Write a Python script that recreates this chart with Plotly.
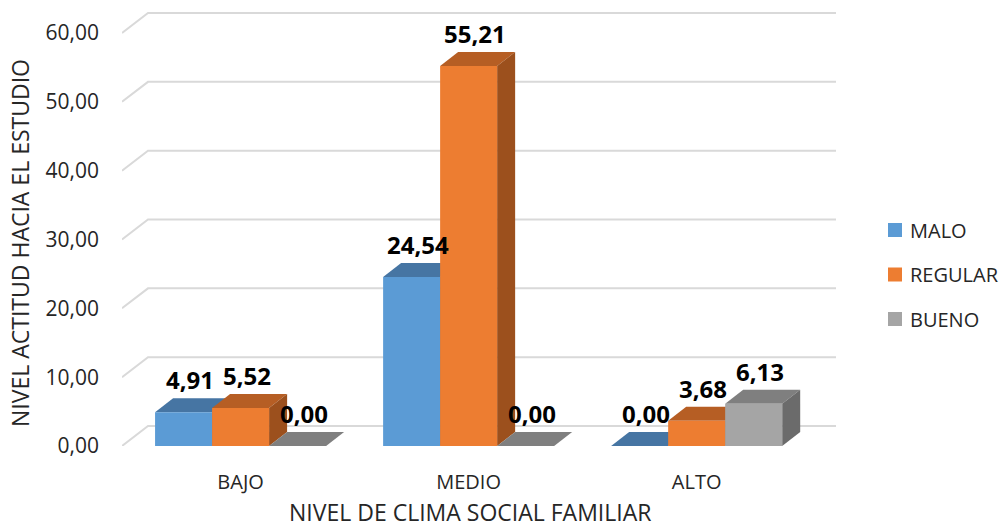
import plotly.graph_objects as go

# ---- data ----
categories = ["BAJO", "MEDIO", "ALTO"]
series_names = ["MALO", "REGULAR", "BUENO"]
malo = [4.91, 24.54, 0.00]
regular = [5.52, 55.21, 3.68]
bueno = [0.00, 0.00, 6.13]
y_ticks = [0, 10, 20, 30, 40, 50, 60]

series_values = [malo, regular, bueno]

# ---- style ----
front_colors = ["#5B9BD5", "#ED7D31", "#A5A5A5"]
top_colors = ["#4675A3", "#B65E24", "#7F7F7F"]
side_colors = ["#3F6A94", "#9C501D", "#6B6B6B"]
FONT = "Open Sans"
TXT = "#262626"

BAR_W = 0.25          # bar width in category units
DX, DY = 0.079, 2.03  # bar depth projection (x units, y units)
WDX, WDY = 0.114, 2.9 # back-wall projection
X0, X1 = -0.52, 2.611
Y1 = 63.34

# plot area in pixels (for placing legend/titles in paper coords)
ML, MR, MT, MB = 122, 166, 10, 83
W, H = 1002, 529
PW, PH = W - ML - MR, H - MT - MB

def px(x):
    return (x - ML) / PW

def py(y):
    return (H - MB - y) / PH

fig = go.Figure()

def poly(xs, ys, color):
    fig.add_trace(go.Scatter(x=xs, y=ys, mode="lines", fill="toself",
                             fillcolor=color, line=dict(width=0, color=color),
                             hoverinfo="skip", showlegend=False))

annotations = []
for ci, cat in enumerate(categories):
    for si in range(len(series_names)):
        v = series_values[si][ci]
        c = ci + (si - 1) * BAR_W
        xa, xb = c - BAR_W / 2, c + BAR_W / 2
        # top face
        poly([xa, xb, xb + DX, xa + DX, xa], [v, v, v + DY, v + DY, v], top_colors[si])
        if v > 0:
            # side face
            poly([xb, xb + DX, xb + DX, xb, xb], [0, DY, v + DY, v, 0], side_colors[si])
            # front face
            poly([xa, xb, xb, xa, xa], [0, 0, v, v, 0], front_colors[si])
        annotations.append(dict(
            x=c + DX / 3, y=v + DY, xref="x", yref="y",
            text=f"{v:.2f}".replace(".", ","), showarrow=False,
            yanchor="bottom", yshift=0,
            font=dict(family=FONT, size=24, color="#000000", weight="bold")))

# gridlines on back wall with left-wall diagonal
shapes = []
for t in y_ticks:
    shapes.append(dict(type="path", xref="x", yref="y", layer="below",
                       path=f"M {X0},{t} L {X0 + WDX},{t + WDY} L {X1},{t + WDY}",
                       line=dict(color="#D9D9D9", width=2)))

# legend (drawn manually so it may run to the right edge like the original)
for si, name in enumerate(series_names):
    yc = 230 + 44.5 * si
    shapes.append(dict(type="rect", xref="paper", yref="paper",
                       x0=px(888), x1=px(902), y0=py(yc + 7), y1=py(yc - 7),
                       fillcolor=front_colors[si], line=dict(width=0)))
    annotations.append(dict(text=name, xref="paper", yref="paper",
                            x=px(908), y=py(yc), xanchor="left", yanchor="middle",
                            showarrow=False,
                            font=dict(family=FONT, size=20, color=TXT)))

annotations.append(dict(text="NIVEL ACTITUD HACIA EL ESTUDIO", xref="paper", yref="paper",
                        x=px(20), y=py(243), textangle=-90, showarrow=False,
                        xanchor="center", yanchor="middle",
                        font=dict(family=FONT, size=23, color=TXT)))
annotations.append(dict(text="NIVEL DE CLIMA SOCIAL FAMILIAR", xref="paper", yref="paper",
                        x=px(470), y=py(530), showarrow=False,
                        xanchor="center", yanchor="bottom",
                        font=dict(family=FONT, size=23, color=TXT)))

fig.update_layout(
    width=W, height=H,
    margin=dict(l=ML, r=MR, t=MT, b=MB),
    paper_bgcolor="white", plot_bgcolor="white",
    separators=",.",
    font=dict(family=FONT, size=21, color=TXT),
    shapes=shapes, annotations=annotations,
    showlegend=False,
    xaxis=dict(range=[X0, X1], showgrid=False, zeroline=False, showline=False,
               tickvals=list(range(len(categories))), ticktext=categories,
               ticks="", ticklabelstandoff=22, fixedrange=True,
               tickfont=dict(family=FONT, size=20, color=TXT)),
    yaxis=dict(range=[0, Y1], showgrid=False, zeroline=False, showline=False,
               tickvals=y_ticks, tickformat=".2f", ticks="",
               ticklabelstandoff=22, fixedrange=True,
               tickfont=dict(family=FONT, size=21, color=TXT)),
)

fig.write_html("out.html", config={"displayModeBar": False},
               post_script="document.body.style.margin='0px';document.body.style.overflow='hidden';")
